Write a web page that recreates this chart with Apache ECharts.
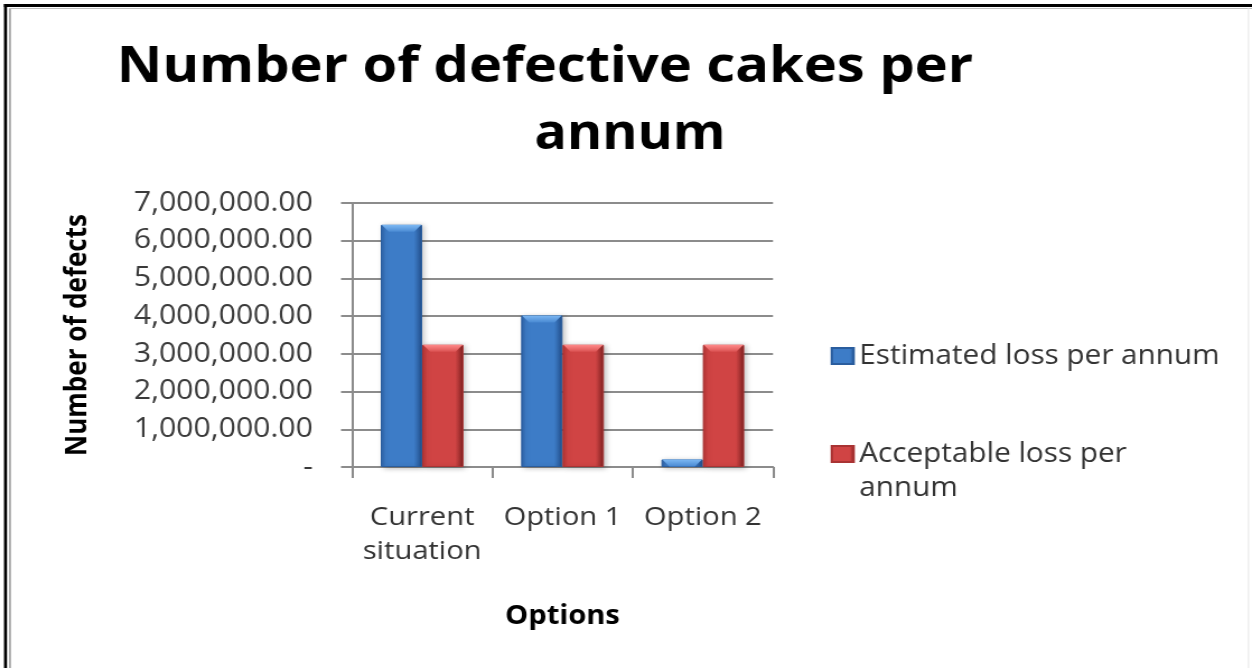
<!DOCTYPE html>
<html>
<head>
<meta charset="utf-8">
<script src="https://cdn.jsdelivr.net/npm/echarts@6/dist/echarts.min.js"></script>
<style>
  html, body { margin: 0; padding: 0; background: #ffffff; overflow: hidden; }
  #wrap { width: 1252px; height: 668px; overflow: hidden; position: relative; }
  /* the chart is laid out on a narrower canvas and stretched horizontally */
  #chart { width: 1118px; height: 668px; transform: scaleX(1.11986); transform-origin: 0 0; }
</style>
</head>
<body>
<div id="wrap"><div id="chart"></div></div>
<script>
// Chart data
const categories = ['Current\nsituation', 'Option 1', 'Option 2'];
const estimatedLoss = [6420000, 4020000, 200000];
const acceptableLoss = [3240000, 3240000, 3240000];
const seriesNames = ['Estimated loss per annum', 'Acceptable loss per annum'];
const titleLines = ['Number of defective cakes per', 'annum'];
const yAxisTitle = 'Number of defects';
const xAxisTitle = 'Options';

const FONT = '"Open Sans", Lato, sans-serif';
const GAP = '41%';
const S = 1252 / 1118;          // horizontal stretch applied by CSS
const sx = v => v / S;          // page x -> chart x
const W = 1118;

function fmtTick(v) {
  if (v === 0) return '-';
  return v.toLocaleString('en-US', { minimumFractionDigits: 2, maximumFractionDigits: 2 });
}

function barFill(left, mid, right) {
  return new echarts.graphic.LinearGradient(0, 0, 1, 0, [
    { offset: 0, color: left },
    { offset: 0.12, color: mid },
    { offset: 0.8, color: mid },
    { offset: 1, color: right }
  ]);
}

function capFill(top, bottom) {
  return new echarts.graphic.LinearGradient(0, 0, 0, 1, [
    { offset: 0, color: top },
    { offset: 1, color: bottom }
  ]);
}

// bevelled cap drawn on the top end of every bar
const CAP = 'path://M0,0 L100,0 L82,100 L18,100 Z';

const chart = echarts.init(document.getElementById('chart'), null, { renderer: 'canvas' });

chart.setOption({
  backgroundColor: '#ffffff',
  animation: false,
  grid: { left: sx(352), right: W - sx(773), top: 203, bottom: 201, containLabel: false },
  graphic: [
    // outer frame
    { type: 'rect', shape: { x: sx(4), y: 4, width: W, height: 3 }, style: { fill: '#000' } },
    { type: 'rect', shape: { x: sx(4), y: 4, width: sx(3), height: 668 }, style: { fill: '#000' } },
    { type: 'rect', shape: { x: sx(9), y: 9, width: sx(2), height: 668 }, style: { fill: '#a6a6a6' } },
    { type: 'rect', shape: { x: sx(9), y: 8, width: W, height: 1 }, style: { fill: '#bdbdbd' } },
    { type: 'rect', shape: { x: sx(1248), y: 8, width: sx(1), height: 668 }, style: { fill: '#e4e4e4' } },
    // title
    { type: 'text', style: { x: sx(545), y: 68, text: titleLines[0], textAlign: 'center', textVerticalAlign: 'middle',
      font: 'bold 50px ' + FONT, fill: '#000' } },
    { type: 'text', style: { x: sx(630), y: 135, text: titleLines[1], textAlign: 'center', textVerticalAlign: 'middle',
      font: 'bold 48px ' + FONT, fill: '#000' } }
  ],
  legend: [
    {
      orient: 'vertical', left: sx(825), top: 334,
      itemWidth: sx(22), itemHeight: 16, icon: 'rect',
      data: [seriesNames[0]],
      textStyle: { fontFamily: FONT, fontSize: 26.5, color: '#333', lineHeight: 34 }
    },
    {
      orient: 'vertical', left: sx(825), top: 398,
      itemWidth: sx(22), itemHeight: 16, icon: 'rect',
      data: [seriesNames[1]],
      // leading empty line keeps the first text line level with the icon
      formatter: () => ' \nAcceptable loss per\nannum',
      textStyle: { fontFamily: FONT, fontSize: 26.5, color: '#333', lineHeight: 34 }
    }
  ],
  xAxis: {
    type: 'category',
    data: categories,
    name: xAxisTitle,
    nameLocation: 'middle',
    nameGap: 137,
    nameTextStyle: { fontFamily: FONT, fontSize: 26, fontWeight: 'bold', color: '#000' },
    axisLine: { lineStyle: { color: '#8c8c8c', width: 2 } },
    axisTick: { show: true, length: 11, lineStyle: { color: '#8c8c8c', width: 2 } },
    axisLabel: { interval: 0, hideOverlap: false, fontFamily: FONT, fontSize: 26, color: '#333', margin: 34, lineHeight: 34 }
  },
  yAxis: {
    type: 'value',
    min: 0, max: 7000000, interval: 1000000,
    name: yAxisTitle,
    nameLocation: 'middle',
    nameGap: sx(260),
    nameRotate: 90,
    nameTextStyle: { fontFamily: FONT, fontSize: 26, fontWeight: 'bold', color: '#000' },
    axisLine: { show: true, lineStyle: { color: '#8c8c8c', width: 2 } },
    axisTick: { show: true, length: sx(11), lineStyle: { color: '#8c8c8c', width: 2 } },
    splitLine: { lineStyle: { color: '#8c8c8c', width: 2 } },
    axisLabel: { fontFamily: FONT, fontSize: 27, color: '#3a3a3a', margin: sx(39), formatter: fmtTick }
  },
  series: [
    {
      name: seriesNames[0], type: 'bar', data: estimatedLoss,
      barGap: '0%', barCategoryGap: GAP,
      itemStyle: {
        color: barFill('#2d62a8', '#3d7cc7', '#23508c'),
        borderColor: '#2a5d9e', borderWidth: 1,
        shadowColor: 'rgba(0,0,0,0.25)', shadowBlur: 5, shadowOffsetX: 2, shadowOffsetY: 1
      }
    },
    {
      name: seriesNames[1], type: 'bar', data: acceptableLoss,
      barGap: '0%', barCategoryGap: GAP,
      itemStyle: {
        color: barFill('#b53535', '#d04444', '#7c2020'),
        borderColor: '#a93333', borderWidth: 1,
        shadowColor: 'rgba(0,0,0,0.25)', shadowBlur: 5, shadowOffsetX: 2, shadowOffsetY: 1
      }
    },
    {
      name: seriesNames[0], type: 'pictorialBar', data: estimatedLoss,
      barGap: '0%', barCategoryGap: GAP, silent: true, z: 3,
      symbol: CAP, symbolSize: ['96%', 7], symbolPosition: 'end', symbolOffset: [0, 0],
      itemStyle: { color: capFill('#7db8f3', '#4a8ad3') }
    },
    {
      name: seriesNames[1], type: 'pictorialBar', data: acceptableLoss,
      barGap: '0%', barCategoryGap: GAP, silent: true, z: 3,
      symbol: CAP, symbolSize: ['96%', 7], symbolPosition: 'end', symbolOffset: [0, 0],
      itemStyle: { color: capFill('#ff8a8a', '#db5252') }
    }
  ]
});
</script>
</body>
</html>
